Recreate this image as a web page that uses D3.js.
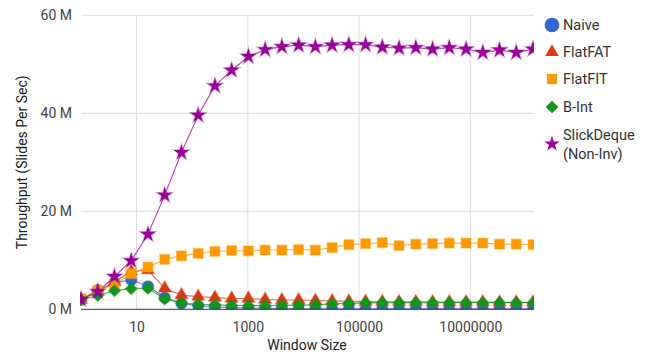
<!DOCTYPE html>
<html>
<head>
<meta charset="utf-8">
<script src="https://cdn.jsdelivr.net/npm/d3@7"></script>
<style>
  body { margin: 0; background: #fff; }
  svg { display: block; font-family: Roboto, "Noto Sans", Arial, sans-serif; }
</style>
</head>
<body>
<svg id="chart" width="649" height="355"></svg>
<script>
const windowSizes = [1, 2, 4, 8, 16, 32, 64, 128, 256, 512, 1024, 2048, 4096, 8192, 16384, 32768,
  65536, 131072, 262144, 524288, 1048576, 2097152, 4194304, 8388608, 16777216, 33554432, 67108864, 134217728];

const naive = [2.0, 3.9, 5.4, 6.0, 4.7, 2.4, 1.2, 0.7, 0.5, 0.35, 0.25, 0.2, 0.15, 0.12, 0.1, 0.1,
  0.1, 0.1, 0.1, 0.1, 0.1, 0.1, 0.1, 0.1, 0.1, 0.1, 0.1, 0.1];
const flatFAT = [2.0, 3.7, 5.6, 7.7, 8.0, 4.3, 2.9, 2.6, 2.4, 2.2, 2.2, 2.0, 1.9, 1.9, 1.8, 1.7,
  1.6, 1.55, 1.5, 1.5, 1.5, 1.45, 1.45, 1.45, 1.45, 1.4, 1.4, 1.4];
const flatFIT = [2.2, 3.8, 5.0, 7.3, 8.6, 10.2, 10.9, 11.4, 11.8, 12.0, 11.9, 12.1, 12.1, 12.2, 12.1, 12.6,
  13.2, 13.4, 13.6, 13.0, 13.3, 13.4, 13.5, 13.5, 13.5, 13.3, 13.3, 13.2];
const bInt = [1.9, 2.8, 3.8, 4.2, 4.3, 2.1, 1.3, 1.0, 0.9, 0.8, 0.75, 0.75, 0.8, 0.85, 0.9, 1.1,
  1.2, 1.3, 1.35, 1.35, 1.35, 1.35, 1.35, 1.35, 1.35, 1.35, 1.35, 1.35];
const slickDeque = [2.0, 3.6, 6.7, 9.9, 15.3, 23.3, 32.0, 39.6, 45.6, 48.8, 51.6, 53.0, 53.6, 53.9, 53.6, 53.9,
  54.0, 54.0, 53.5, 53.3, 53.4, 53.1, 53.4, 53.1, 52.4, 52.9, 52.4, 53.1];

const seriesNames = ["Naive", "FlatFAT", "FlatFIT", "B-Int", "SlickDeque (Non-Inv)"];
const seriesValues = [naive, flatFAT, flatFIT, bInt, slickDeque];
const xTickValues = [10, 1000, 100000, 10000000];
const yTickValues = [0, 20, 40, 60];

const colors = ["#3366cc", "#dc3912", "#ff9900", "#109618", "#990099"];
const symbols = [d3.symbolCircle, d3.symbolTriangle, d3.symbolSquare, d3.symbolSquare, d3.symbolStar];
const sizes = [100, 70, 95, 70, 72];
const rotations = [0, 0, 0, 45, 0];

const svg = d3.select("#chart");
const pLeft = 81, pRight = 533, pTop = 15.3, pBottom = 309.3;

const x = d3.scaleLog().domain([1, 134217728]).range([pLeft, pRight]);
const y = d3.scaleLinear().domain([0, 60]).range([pBottom, pTop]);

svg.append("defs").append("clipPath").attr("id", "plotclip")
  .append("rect").attr("x", pLeft - 1).attr("y", pTop - 10)
  .attr("width", pRight - pLeft + 2).attr("height", pBottom - pTop + 10);

// gridlines
const grid = svg.append("g");
grid.selectAll("line.h").data(yTickValues.filter(d => d > 0)).join("line")
  .attr("x1", pLeft).attr("x2", pRight + 1)
  .attr("y1", d => y(d)).attr("y2", d => y(d))
  .attr("stroke", "#dcdcdc").attr("stroke-width", 1);
grid.selectAll("line.v").data(xTickValues).join("line")
  .attr("x1", d => x(d)).attr("x2", d => x(d))
  .attr("y1", pTop).attr("y2", pBottom)
  .attr("stroke", "#dcdcdc").attr("stroke-width", 1);

// axes
const xAxis = d3.axisBottom(x).tickValues(xTickValues).tickFormat(d3.format("d")).tickSize(0).tickPadding(0);
const gx = svg.append("g").attr("transform", `translate(0,${pBottom})`).call(xAxis);
gx.select(".domain").remove();
gx.selectAll("text").attr("font-size", 14).attr("fill", "#444").attr("dy", null).attr("y", 23)
  .attr("font-family", "Roboto, sans-serif");

const yAxis = d3.axisLeft(y).tickValues(yTickValues).tickFormat(d => d + " M").tickSize(0).tickPadding(0);
const gy = svg.append("g").attr("transform", `translate(${pLeft - 9},0)`).call(yAxis);
gy.select(".domain").remove();
gy.selectAll("text").attr("font-size", 14).attr("fill", "#444")
  .attr("font-family", "Roboto, sans-serif");

// axis titles
svg.append("text").attr("x", pLeft + (pRight - pLeft) / 2).attr("y", 350)
  .attr("text-anchor", "middle").attr("font-size", 14).attr("fill", "#222").text("Window Size");
svg.append("text").attr("transform", `translate(27,${(pTop + pBottom) / 2}) rotate(-90)`)
  .attr("text-anchor", "middle").attr("font-size", 14).attr("fill", "#222").text("Throughput (Slides Per Sec)");

const plot = svg.append("g").attr("clip-path", "url(#plotclip)");

// lines
const line = d3.line().x((d, i) => x(windowSizes[i])).y(d => y(d));
seriesValues.forEach((vals, s) => {
  plot.append("path").datum(vals).attr("d", line)
    .attr("fill", "none").attr("stroke", colors[s]).attr("stroke-opacity", 0.7).attr("stroke-width", 1.2);
});

// points
seriesValues.forEach((vals, s) => {
  const sym = d3.symbol().type(symbols[s]).size(sizes[s]);
  plot.append("g").selectAll("path").data(vals).join("path")
    .attr("d", sym)
    .attr("transform", (d, i) => `translate(${x(windowSizes[i])},${y(d)}) rotate(${rotations[s]})`)
    .attr("fill", colors[s]).attr("stroke", colors[s]).attr("stroke-opacity", 0.35).attr("stroke-width", 1.5);
});

// baseline
svg.append("line").attr("x1", pLeft).attr("x2", pRight + 1).attr("y1", pBottom).attr("y2", pBottom)
  .attr("stroke", "#333").attr("stroke-width", 1);

// legend
const legendY = [25, 52, 79, 107, 144];
const lg = svg.append("g");
seriesNames.forEach((name, s) => {
  const sym = d3.symbol().type(symbols[s]).size(s === 0 ? 170 : (s === 4 ? 75 : sizes[s] + 10));
  lg.append("path").attr("d", sym)
    .attr("transform", `translate(552,${legendY[s]}) rotate(${rotations[s]})`)
    .attr("fill", colors[s]);
  if (s < 4) {
    lg.append("text").attr("x", 563).attr("y", legendY[s] + 5).attr("font-size", 14.5).attr("fill", "#333").text(name);
  } else {
    lg.append("text").attr("x", 563).attr("y", 140).attr("font-size", 14.5).attr("fill", "#333").text("SlickDeque");
    lg.append("text").attr("x", 563).attr("y", 159).attr("font-size", 14.5).attr("fill", "#333").text("(Non-Inv)");
  }
});
</script>
</body>
</html>
